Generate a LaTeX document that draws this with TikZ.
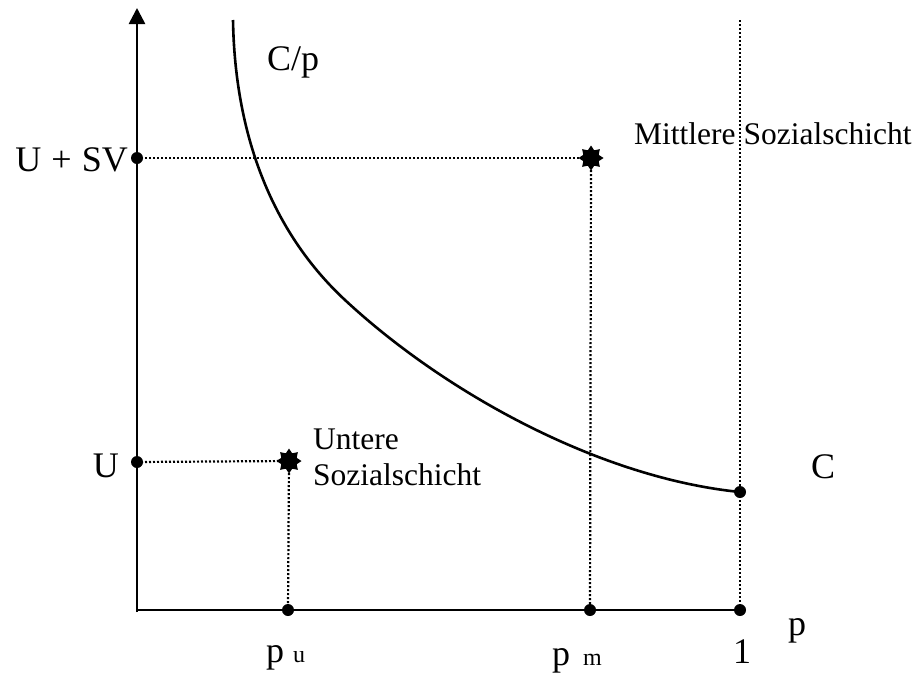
\documentclass[tikz,border=0pt]{standalone}
\usepackage{fontspec}
\setmainfont{Liberation Serif}
\usetikzlibrary{shapes.geometric,arrows.meta}
\newcommand{\bigtxt}{\fontsize{36}{40}\selectfont}
\newcommand{\midtxt}{\fontsize{31.5}{36}\selectfont}
\newcommand{\subtxt}{\fontsize{24}{26}\selectfont}
\begin{document}
\begin{tikzpicture}[x=1pt,y=-1pt,
  axis/.style={line width=2.6pt},
  curveline/.style={line width=2.6pt},
  dotline/.style={line width=2.2pt, dash pattern=on 2pt off 2pt},
  bigdot/.style={circle, fill=black, inner sep=0pt, minimum size=12pt},
  starmark/.style={star, star points=8, star point ratio=1.5, fill=black, inner sep=0pt, minimum size=25pt},
  lab/.style={inner sep=0pt, font=\bigtxt},
  annot/.style={inner sep=0pt, font=\midtxt}]
\useasboundingbox (0,0) rectangle (918,672);
% axes
\coordinate (origin) at (137,610);
\coordinate (ytop) at (137,8);
\node[bigdot] (d1) at (740,610) {};
\draw[axis, -{Triangle[length=16pt,width=16pt]}] (137,612) -- (ytop);
\draw[axis] (origin) -- (d1.center);
% dots on axes
\node[bigdot] (dusv) at (137,158) {};
\node[bigdot] (du) at (137,462) {};
\node[bigdot] (dpu) at (288,610) {};
\node[bigdot] (dpm) at (590,610) {};
\node[bigdot] (dc) at (740,492) {};
\coordinate (vtop) at (740,20);
\coordinate (ctop) at (233,20);
\coordinate (cmid) at (345,300);
% stars
\node[starmark] (sm) at (591,158) {};
\node[starmark] (su) at (289,461) {};
% dotted lines
\draw[dotline] (dusv.center) -- (sm.center);
\draw[dotline] (sm.center) -- (dpm.center);
\draw[dotline] (du.center) -- (su.center);
\draw[dotline] (su.center) -- (dpu.center);
\draw[dotline] (vtop) -- (d1.center);
% curve C/p
\draw[curveline] (ctop) .. controls (235,140) and (275,235) .. (cmid)
  .. controls (445,393) and (600,478) .. (dc.center);
% labels
\node[lab, anchor=base west] (cp) at (267,70) {C/p};
\node[annot, anchor=base west] (mittl) at (634,144) {Mittlere Sozialschicht};
\node[annot, anchor=base west] (unt1) at (313,449) {Untere};
\node[annot, anchor=base west] (unt2) at (313,485) {Sozialschicht};
\node[lab, anchor=base east] (lusv) at (128,171) {U\hspace{10pt}+\hspace{10pt}SV};
\node[lab, anchor=base east] (lu) at (119,477) {U};
\node[lab, anchor=base west] (lc) at (811,478) {C};
\node[lab, anchor=base west] (lp) at (788,635) {p};
\node[lab, anchor=base west] (l1) at (733,663) {1};
\node[lab, anchor=base west] (lpu) at (266,662) {p\hspace{9pt}{\subtxt u}};
\node[lab, anchor=base west] (lpm) at (552,665) {p\hspace{13pt}{\subtxt m}};
\end{tikzpicture}
\end{document}
